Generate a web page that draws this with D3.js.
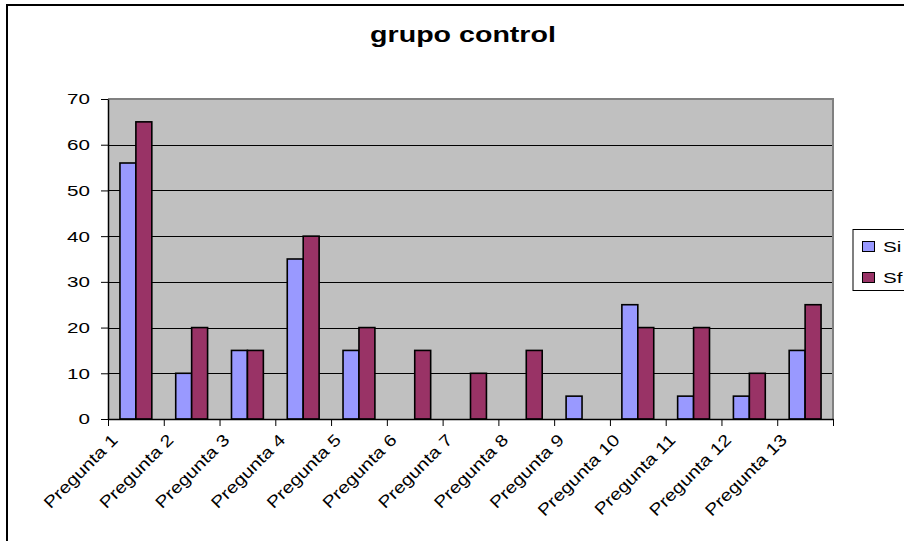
<!DOCTYPE html>
<html>
<head>
<meta charset="utf-8">
<script src="https://cdn.jsdelivr.net/npm/d3@7"></script>
<style>
  html, body { margin: 0; padding: 0; background: #fff; }
  svg { display: block; font-family: Arial, "Liberation Sans", sans-serif; }
</style>
</head>
<body>
<svg id="chart" width="904" height="541"></svg>
<script>
// Data
const categories = ["Pregunta 1","Pregunta 2","Pregunta 3","Pregunta 4","Pregunta 5","Pregunta 6","Pregunta 7",
                    "Pregunta 8","Pregunta 9","Pregunta 10","Pregunta 11","Pregunta 12","Pregunta 13"];
const seriesNames = ["Si", "Sf"];
const siValues = [56, 10, 15, 35, 15, 0, 0, 0, 5, 25, 5, 5, 15];
const sfValues = [65, 20, 15, 40, 20, 15, 10, 15, 0, 20, 20, 10, 25];
const yTicks = [0, 10, 20, 30, 40, 50, 60, 70];
const titleText = "grupo control";

const colors = { Si: "#9999FF", Sf: "#993366" };
const textStretch = 1.33;

const svg = d3.select("#chart");
const W = 904, H = 541;
const plot = { left: 108, right: 833, top: 99, bottom: 419 };

// Background + outer chart border
svg.append("rect").attr("x", 0).attr("y", 0).attr("width", W).attr("height", H).attr("fill", "#fff");
svg.append("rect").attr("x", 7).attr("y", 5).attr("width", W + 10).attr("height", H + 10)
  .attr("fill", "none").attr("stroke", "#000").attr("stroke-width", 2);

// Scales
const x0 = d3.scaleBand().domain(categories).range([plot.left, plot.right]).padding(0);
const x1 = d3.scaleBand().domain(seriesNames).range([0, x0.bandwidth()]).paddingInner(0).paddingOuter(0.75);
const y = d3.scaleLinear().domain([0, 70]).range([plot.bottom, plot.top]);

// Plot area
svg.append("rect").attr("x", plot.left).attr("y", plot.top)
  .attr("width", plot.right - plot.left).attr("height", plot.bottom - plot.top)
  .attr("fill", "#C0C0C0");

// Gridlines
svg.append("g").selectAll("line").data(yTicks.filter(t => t > 0 && t < 70)).join("line")
  .attr("x1", plot.left).attr("x2", plot.right)
  .attr("y1", d => Math.round(y(d)) + 0.5).attr("y2", d => Math.round(y(d)) + 0.5)
  .attr("stroke", "#000").attr("stroke-width", 1);

// Plot border (top and right, gray)
svg.append("path")
  .attr("d", `M${plot.left},${plot.top} H${plot.right} V${plot.bottom}`)
  .attr("fill", "none").attr("stroke", "#808080").attr("stroke-width", 2);

// Bars
const rows = categories.map((c, i) => ({ cat: c, Si: siValues[i], Sf: sfValues[i] }));
const groups = svg.append("g").selectAll("g").data(rows).join("g")
  .attr("transform", d => `translate(${x0(d.cat)},0)`);
groups.selectAll("rect")
  .data(d => seriesNames.map(s => ({ s, v: d[s] })).filter(e => e.v > 0))
  .join("rect")
  .attr("x", d => x1(d.s))
  .attr("y", d => y(d.v))
  .attr("width", x1.bandwidth())
  .attr("height", d => y(0) - y(d.v))
  .attr("fill", d => colors[d.s])
  .attr("stroke", "#000").attr("stroke-width", 1.6);

// Y axis
const yAxis = svg.append("g").attr("transform", `translate(${plot.left},0)`)
  .call(d3.axisLeft(y).tickValues(yTicks).tickSize(7).tickPadding(11).tickSizeOuter(0));
yAxis.select(".domain").attr("stroke", "#000").attr("stroke-width", 1.5);
yAxis.selectAll(".tick line").attr("stroke", "#000");
yAxis.selectAll(".tick text").each(function () {
  const t = d3.select(this);
  const xx = +t.attr("x");
  t.attr("x", null).attr("transform", `translate(${xx},0) scale(${textStretch},1)`);
}).attr("font-size", 15.5).attr("fill", "#000").attr("font-family", "Arial, 'Liberation Sans', sans-serif");

// X axis
const xAxis = svg.append("g").attr("transform", `translate(0,${plot.bottom})`)
  .call(d3.axisBottom(d3.scalePoint().domain(d3.range(categories.length + 1)).range([plot.left, plot.right]))
    .tickSize(7).tickFormat("").tickSizeOuter(0));
xAxis.select(".domain").attr("stroke", "#000").attr("stroke-width", 1.5);
xAxis.selectAll(".tick line").attr("stroke", "#000");

// Category labels, rotated
svg.append("g").selectAll("text").data(categories).join("text")
  .attr("transform", d => `translate(${x0(d) + x0.bandwidth() / 2 - 17},${plot.bottom + 22}) rotate(-45) scale(1.2,1)`)
  .attr("text-anchor", "end")
  .attr("font-size", 16.5)
  .attr("fill", "#000")
  .text(d => d);

// Title
svg.append("text")
  .attr("transform", `translate(463,42) scale(1.3,1)`)
  .attr("text-anchor", "middle")
  .attr("font-size", 22).attr("font-weight", "bold").attr("fill", "#000")
  .text(titleText);

// Legend
const legend = svg.append("g");
legend.append("rect").attr("x", 853).attr("y", 229.5).attr("width", 80).attr("height", 61)
  .attr("fill", "#fff").attr("stroke", "#000").attr("stroke-width", 1);
const legItems = legend.selectAll("g").data(seriesNames).join("g")
  .attr("transform", (d, i) => `translate(0,${i * 31})`);
legItems.append("rect").attr("x", 862.5).attr("y", 241.5).attr("width", 12).attr("height", 10)
  .attr("fill", d => colors[d]).attr("stroke", "#000").attr("stroke-width", 1);
legItems.append("text")
  .attr("transform", `translate(883,251.5) scale(${textStretch},1)`)
  .attr("font-size", 15.5).attr("fill", "#000")
  .text(d => d);
</script>
</body>
</html>
